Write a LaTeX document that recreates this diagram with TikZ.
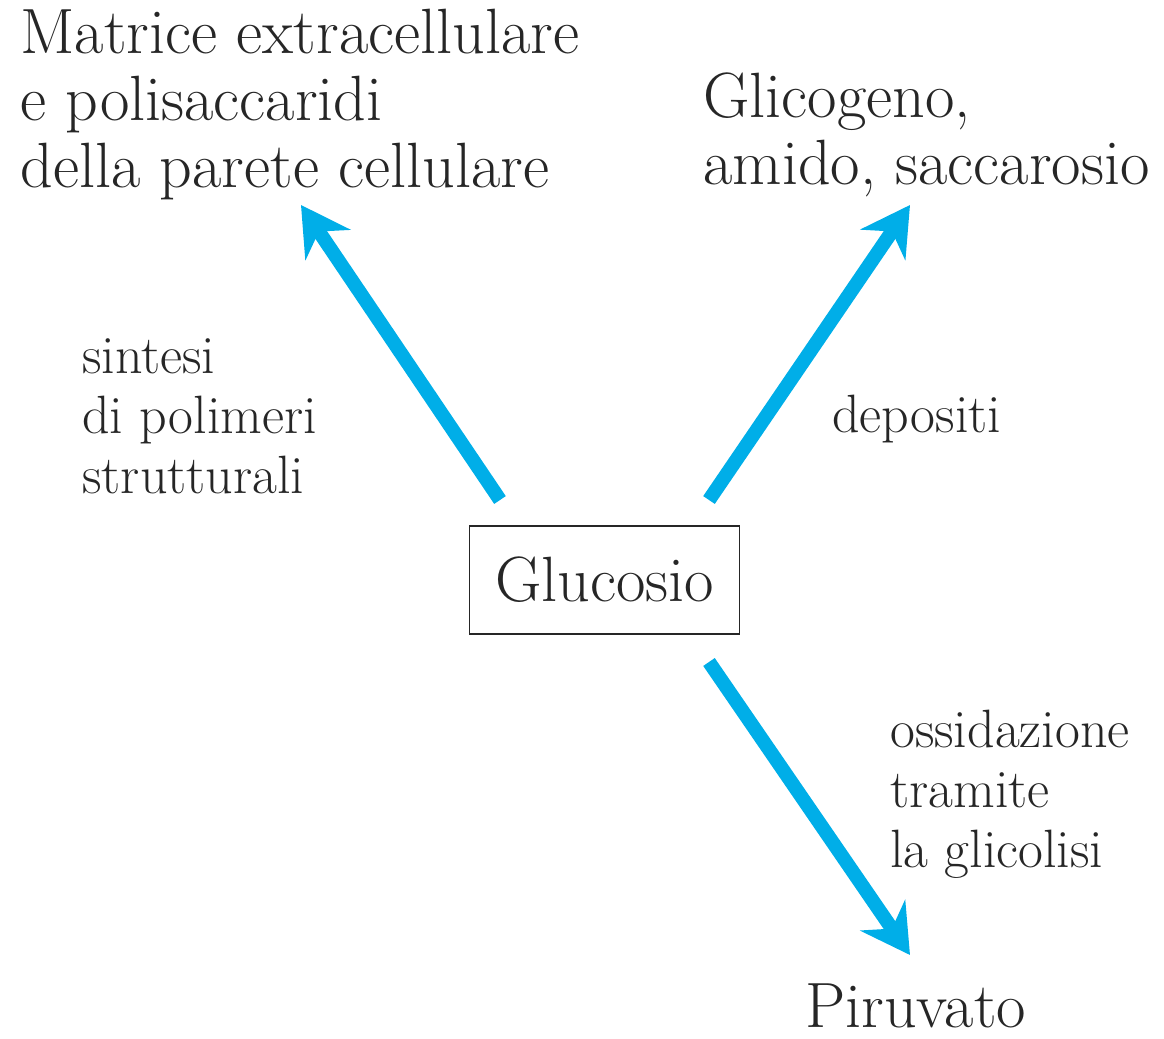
\documentclass[tikz,border=0pt]{standalone}
\usepackage{fontspec}
\usepackage{tikz}
\usetikzlibrary{arrows.meta}
\definecolor{flowcyan}{RGB}{0,174,232}
\tikzstyle{product_node} = [anchor=base west, align=left, inner sep=0pt, text=black!85, font=\fontsize{32pt}{33.5pt}\selectfont]
\tikzstyle{path_label} = [anchor=base west, align=left, inner sep=0pt, text=black!85, font=\fontsize{27pt}{30pt}\selectfont]
\tikzstyle{source_node} = [rectangle, draw=black!85, line width=0.8pt, minimum width=135pt, minimum height=54pt, text=black!85, font=\fontsize{32pt}{33.5pt}\selectfont]
\tikzstyle{flow_arrow} = [draw=flowcyan, line width=7pt, -{Stealth[length=24pt, width=27pt, inset=8pt]}]

\begin{document}
\begin{tikzpicture}[x=0.5pt, y=-0.5pt]
    \useasboundingbox (0,0) rectangle (1164,1039);

    \node (glucosio) [source_node] at (604.5,580) {Glucosio};
    \node (matrice) [product_node] at (20,187) {Matrice extracellulare\\e polisaccaridi\\della parete cellulare};
    \node (glicogeno) [product_node] at (703,184) {Glicogeno,\\amido, saccarosio};
    \node (piruvato) [product_node] at (805,1027) {Piruvato};

    \node (sintesi) [path_label] at (82,493) {sintesi\\di polimeri\\strutturali};
    \node (depositi) [path_label] at (832,432) {depositi};
    \node (ossidazione) [path_label] at (890,867) {ossidazione\\tramite\\la glicolisi};

    % free ends of the three arrows
    \coordinate (left_start) at (500,500);
    \coordinate (left_end) at (301,205);
    \coordinate (right_start) at (709,500);
    \coordinate (right_end) at (910,205);
    \coordinate (down_start) at (709,662);
    \coordinate (down_end) at (910,955);

    \draw [flow_arrow] (left_start) -- (left_end);
    \draw [flow_arrow] (right_start) -- (right_end);
    \draw [flow_arrow] (down_start) -- (down_end);
\end{tikzpicture}
\end{document}
